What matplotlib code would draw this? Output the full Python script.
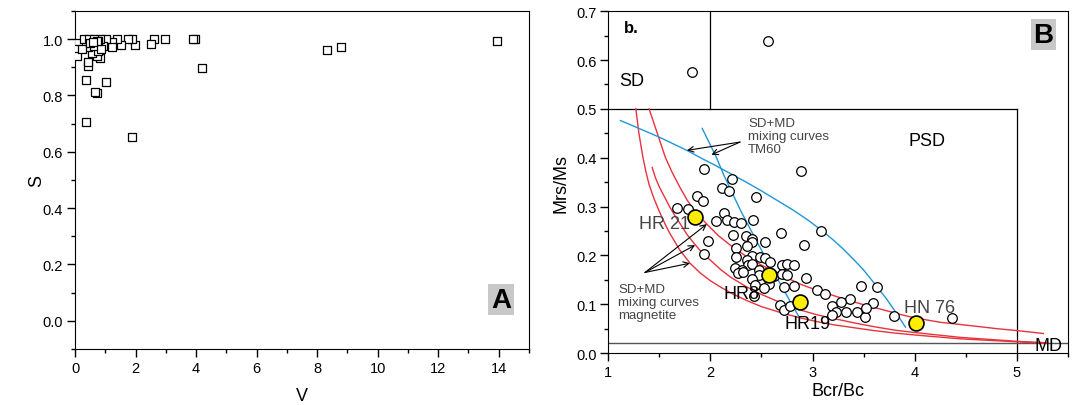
import matplotlib
matplotlib.use("Agg")
import matplotlib.pyplot as plt
from matplotlib.ticker import MultipleLocator, FormatStrFormatter

plt.rcParams['font.family'] = ['Liberation Sans', 'DejaVu Sans']

# ---------------- Panel A data (V vs S) ----------------
v_vals = [13.94, 8.32, 8.79, 4.20, 3.96, 3.90, 2.98, 2.62, 2.51, 1.87, 1.98, 1.87, 1.76,
          1.51, 1.40, 1.23, 1.21, 1.02, 1.02, 0.94, 0.83, 0.77, 0.72, 0.66, 0.36, 0.36,
          0.44, 0.44, 0.83, 0.72, 0.55, 0.77, 0.44, 0.28, 0.11, 0.055, 0.055, 0.28, 0.47,
          0.61, 0.22, 0.61, 0.85, 0.72, 0.50, 0.60]
s_vals = [0.994, 0.961, 0.973, 0.898, 1.0, 1.0, 1.0, 1.0, 0.982, 0.653, 0.979, 1.0, 1.0,
          0.979, 1.0, 0.991, 0.973, 1.0, 0.847, 0.976, 1.0, 0.994, 0.808, 0.814, 0.706, 0.855,
          0.906, 0.918, 0.932, 0.939, 0.951, 0.959, 0.971, 0.988, 0.988, 0.965, 0.941, 1.0, 1.0,
          1.0, 0.965, 0.976, 0.965, 0.994, 0.985, 0.990]

# ---------------- Panel B data (Bcr/Bc vs Mrs/Ms) ----------------
bcr_bc = [1.823, 2.559, 1.938, 2.886, 2.21, 2.11, 2.186, 1.872, 2.448, 1.932, 1.67, 1.781,
          2.053, 2.138, 2.16, 2.233, 2.298, 2.415, 2.693, 3.082, 2.22, 2.347, 2.409, 1.973,
          2.536, 2.412, 2.363, 2.916, 2.249, 1.94, 2.249, 2.406, 2.487, 2.536, 2.357, 2.585,
          2.70, 2.752, 2.814, 2.366, 2.406, 2.242, 2.307, 2.471, 2.268, 2.317, 2.471, 2.618,
          2.70, 2.752, 2.406, 2.569, 2.932, 2.722, 2.814, 2.438, 2.52, 3.043, 3.125, 2.422,
          3.477, 3.631, 3.363, 3.281, 3.592, 3.19, 2.677, 2.722, 2.781, 3.33, 3.435, 3.232,
          3.19, 3.511, 3.528, 3.796, 4.368]
mrs_ms = [0.575, 0.639, 0.376, 0.372, 0.357, 0.338, 0.331, 0.321, 0.320, 0.311, 0.298, 0.294,
          0.270, 0.287, 0.273, 0.268, 0.266, 0.273, 0.245, 0.249, 0.242, 0.240, 0.234, 0.230,
          0.228, 0.227, 0.220, 0.221, 0.215, 0.203, 0.197, 0.199, 0.197, 0.195, 0.190, 0.187,
          0.181, 0.182, 0.180, 0.181, 0.183, 0.174, 0.169, 0.169, 0.164, 0.165, 0.160, 0.158,
          0.162, 0.160, 0.152, 0.141, 0.153, 0.135, 0.137, 0.140, 0.133, 0.130, 0.121, 0.117,
          0.137, 0.136, 0.111, 0.105, 0.102, 0.097, 0.099, 0.089, 0.097, 0.083, 0.083, 0.083,
          0.078, 0.074, 0.092, 0.076, 0.071]

sample_names = ["HR 21", "HR8", "HR19", "HN 76"]
sample_x = [1.85, 2.57, 2.88, 4.01]
sample_y = [0.278, 0.160, 0.105, 0.061]

# magnetite SD+MD mixing curves
mag1_x = [1.27, 1.285, 1.30, 1.32, 1.34, 1.37, 1.40, 1.45, 1.50, 1.55, 1.60, 1.70, 1.80, 1.90,
          2.00, 2.10, 2.20, 2.35, 2.50, 2.70, 2.88, 3.05, 3.20, 3.40, 3.60, 3.80, 4.00, 4.45, 5.00, 5.30]
mag1_y = [0.50, 0.475, 0.45, 0.425, 0.40, 0.37, 0.345, 0.315, 0.29, 0.267, 0.246, 0.211, 0.184, 0.164,
          0.148, 0.135, 0.123, 0.108, 0.095, 0.082, 0.072, 0.064, 0.058, 0.052, 0.046, 0.041, 0.037, 0.029, 0.023, 0.020]
mag2_x = [1.43, 1.46, 1.50, 1.55, 1.60, 1.65, 1.70, 1.77, 1.85, 1.92, 2.00, 2.10, 2.20, 2.35, 2.50,
          2.70, 2.88, 3.05, 3.20, 3.40, 3.60, 3.80, 4.00, 4.45, 5.00, 5.30]
mag2_y = [0.38, 0.36, 0.34, 0.32, 0.30, 0.282, 0.266, 0.243, 0.222, 0.205, 0.19, 0.171, 0.155, 0.136,
          0.12, 0.102, 0.088, 0.078, 0.071, 0.062, 0.054, 0.047, 0.042, 0.032, 0.024, 0.021]
mag3_x = [1.40, 1.44, 1.48, 1.52, 1.56, 1.63, 1.70, 1.77, 1.85, 1.965, 2.08, 2.20, 2.35, 2.50, 2.70,
          2.88, 3.05, 3.20, 3.35, 3.50, 3.70, 3.86, 4.00, 4.25, 4.55, 4.80, 5.00, 5.26]
mag3_y = [0.50, 0.475, 0.45, 0.425, 0.40, 0.368, 0.34, 0.314, 0.29, 0.264, 0.24, 0.22, 0.198, 0.18, 0.159,
          0.141, 0.128, 0.118, 0.108, 0.099, 0.088, 0.079, 0.072, 0.063, 0.056, 0.050, 0.046, 0.040]
# TM60 SD+MD mixing curves
tm1_x = [1.12, 1.30, 1.50, 1.77, 1.92, 2.05, 2.20, 2.35, 2.50, 2.65, 2.80, 2.95, 3.09, 3.20, 3.30,
         3.40, 3.50, 3.63, 3.72, 3.80, 3.91]
tm1_y = [0.476, 0.460, 0.442, 0.415, 0.398, 0.384, 0.367, 0.350, 0.332, 0.313, 0.294, 0.273, 0.251,
         0.232, 0.213, 0.192, 0.170, 0.136, 0.112, 0.088, 0.053]
tm2_x = [1.92, 1.99, 2.06, 2.13, 2.22, 2.30, 2.37, 2.44, 2.53, 2.62, 2.70, 2.78, 2.86]
tm2_y = [0.46, 0.43, 0.40, 0.365, 0.325, 0.29, 0.262, 0.234, 0.199, 0.165, 0.136, 0.106, 0.077]

RED = '#e8323c'
BLUE = '#1f97d6'
GREY = '#444444'

fig = plt.figure(figsize=(10.72, 4.06), dpi=100)
axA = fig.add_axes([0.070, 0.138, 0.4235, 0.8325])
axB = fig.add_axes([0.5674, 0.128, 0.4288, 0.842])

# ---------- Panel A ----------
axA.scatter(v_vals, s_vals, marker='s', s=34, facecolors='white', edgecolors='black', linewidths=0.9, zorder=3)
axA.set_xlim(0, 15)
axA.set_ylim(-0.1, 1.1)
axA.xaxis.set_major_locator(MultipleLocator(2))
axA.xaxis.set_minor_locator(MultipleLocator(1))
axA.yaxis.set_major_locator(MultipleLocator(0.2))
axA.yaxis.set_minor_locator(MultipleLocator(0.1))
axA.yaxis.set_major_formatter(FormatStrFormatter('%.1f'))
axA.tick_params(which='major', direction='out', length=5.5, width=1, labelsize=10.5, pad=3)
axA.tick_params(which='minor', direction='out', length=3, width=1)
axA.set_xlabel('V', fontsize=13)
axA.set_ylabel('S', fontsize=13)
axA.yaxis.set_label_coords(-0.066, 0.5)
axA.xaxis.set_label_coords(0.5, -0.112)
axA.text(14.07, 0.075, 'A', fontsize=20, fontweight='bold', ha='center', va='center',
         bbox=dict(facecolor='#c8c8c8', edgecolor='none', pad=2))

# ---------- Panel B ----------
axB.set_xlim(1, 5.5)
axB.set_ylim(0, 0.7)
axB.xaxis.set_major_locator(MultipleLocator(1))
axB.xaxis.set_minor_locator(MultipleLocator(0.5))
axB.yaxis.set_major_locator(MultipleLocator(0.1))
axB.yaxis.set_minor_locator(MultipleLocator(0.05))
axB.yaxis.set_major_formatter(FormatStrFormatter('%.1f'))
axB.tick_params(which='major', direction='out', length=5.5, width=1, labelsize=10.5, pad=3)
axB.tick_params(which='minor', direction='out', length=3, width=1)
axB.set_xlabel('Bcr/Bc', fontsize=13)
axB.set_ylabel('Mrs/Ms', fontsize=13)
axB.yaxis.set_label_coords(-0.085, 0.5)
axB.xaxis.set_label_coords(0.5, -0.085)

# domain boundaries
axB.plot([1, 5], [0.5, 0.5], color='black', lw=0.9, zorder=2)
axB.plot([5, 5], [0, 0.5], color='black', lw=0.9, zorder=2)
axB.plot([2, 2], [0.5, 0.7], color='black', lw=0.9, zorder=2)
axB.plot([1, 5.5], [0.02, 0.02], color='#555555', lw=1.0, zorder=2)

for xs, ys in [(mag1_x, mag1_y), (mag2_x, mag2_y), (mag3_x, mag3_y)]:
    axB.plot(xs, ys, color=RED, lw=1.0, zorder=2, solid_joinstyle='round')
for xs, ys in [(tm1_x, tm1_y), (tm2_x, tm2_y)]:
    axB.plot(xs, ys, color=BLUE, lw=1.0, zorder=2, solid_joinstyle='round')

axB.scatter(bcr_bc, mrs_ms, marker='o', s=48, facecolors='white', edgecolors='black', linewidths=0.9, zorder=3)
axB.scatter(sample_x, sample_y, marker='o', s=115, facecolors='#ffee00', edgecolors='black', linewidths=1.2, zorder=4)

# labels
axB.text(1.15, 0.666, 'b.', fontsize=12, fontweight='bold', ha='left', va='center')
axB.text(1.11, 0.558, 'SD', fontsize=13, ha='left', va='center')
axB.text(3.94, 0.435, 'PSD', fontsize=13, ha='left', va='center')
axB.text(5.17, 0.016, 'MD', fontsize=13, ha='left', va='center')
axB.text(5.26, 0.652, 'B', fontsize=20, fontweight='bold', ha='center', va='center',
         bbox=dict(facecolor='#c8c8c8', edgecolor='none', pad=2))

axB.text(1.80, 0.266, sample_names[0], fontsize=13, color=GREY, ha='right', va='center')
axB.text(2.13, 0.121, sample_names[1], fontsize=13, color='black', ha='left', va='center')
axB.text(2.73, 0.061, sample_names[2], fontsize=13, color='black', ha='left', va='center')
axB.text(3.90, 0.094, sample_names[3], fontsize=13, color=GREY, ha='left', va='center')

axB.text(2.37, 0.445, 'SD+MD\nmixing curves\nTM60', fontsize=9.5, color=GREY, ha='left', va='center',
         linespacing=1.1)
axB.text(1.10, 0.104, 'SD+MD\nmixing curves\nmagnetite', fontsize=9.5, color=GREY, ha='left', va='center',
         linespacing=1.1)

arrow_kw = dict(arrowstyle='->', color='black', lw=0.8, shrinkA=0, shrinkB=0)
for tip in [(1.77, 0.415), (2.01, 0.406)]:
    axB.annotate('', xy=tip, xytext=(2.29, 0.432), arrowprops=arrow_kw)
for tip in [(1.965, 0.264), (1.85, 0.221), (1.80, 0.184)]:
    axB.annotate('', xy=tip, xytext=(1.36, 0.165), arrowprops=arrow_kw)

fig.savefig('out.png', dpi=100)
